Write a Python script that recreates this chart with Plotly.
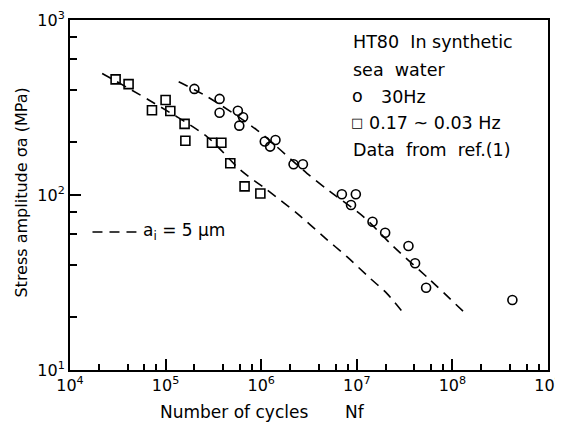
import plotly.graph_objects as go

# 30 Hz data (circles)
circ_N = [2.0e5, 3.67e5, 3.67e5, 5.7e5, 6.46e5, 5.9e5, 1.09e6, 1.41e6, 1.24e6, 2.18e6, 2.73e6,
          6.98e6, 9.77e6, 8.7e6, 1.46e7, 1.98e7, 3.47e7, 4.07e7, 5.31e7, 4.24e8]
circ_S = [404, 354, 295, 303, 278, 249, 202, 206, 189, 150, 150,
          101, 101, 87.7, 70.3, 60.9, 51.1, 40.7, 29.5, 25.1]

# 0.17 ~ 0.03 Hz data (squares)
sq_N = [3.0e4, 4.1e4, 1.0e5, 7.2e4, 1.12e5, 1.58e5, 1.61e5, 3.06e5, 3.83e5, 4.75e5, 6.7e5, 9.8e5]
sq_S = [458, 430, 349, 305, 302, 255, 204, 199, 199, 152, 112, 102]

# predicted curves a_i = 5 um
up_N = [1.37e5, 2.72e5, 9.04e5, 3.01e6, 5.26e6, 1.17e7, 2.42e7, 5.85e7, 1.36e8]
up_S = [444, 365, 235, 133, 104.5, 75.2, 50.7, 32.7, 21.1]
lo_N = [2.17e4, 6.67e4, 2.72e5, 6.05e5, 1.15e6, 2.37e6, 4.49e6, 7.88e6, 1.38e7, 2.06e7, 3.08e7]
lo_S = [495, 349, 215, 139, 107, 78.6, 57.8, 44.4, 33.4, 27.4, 21.1]

x_major = [1e4, 1e5, 1e6, 1e7, 1e8, 1e9]
x_major_text = ["10<sup>4</sup>", "10<sup>5</sup>", "10<sup>6</sup>", "10<sup>7</sup>", "10<sup>8</sup>", "10<sup>9</sup>"]
y_major = [1e1, 1e2, 1e3]
y_major_text = ["10<sup>1</sup>", "10<sup>2</sup>", "10<sup>3</sup>"]
minor_mult = [2, 4, 6, 8]

x_minor = [m * d for d in x_major[:-1] for m in minor_mult]
y_minor = [m * d for d in y_major[:-1] for m in minor_mult]

FONT = "DejaVu Sans"
dash = "10px,7px"

fig = go.Figure()
fig.add_trace(go.Scatter(x=up_N, y=up_S, mode="lines", line=dict(color="black", width=1.6, dash=dash,
                         shape="spline", smoothing=0.8), showlegend=False))
fig.add_trace(go.Scatter(x=lo_N, y=lo_S, mode="lines", line=dict(color="black", width=1.6, dash=dash,
                         shape="spline", smoothing=0.8), showlegend=False))
fig.add_trace(go.Scatter(x=circ_N, y=circ_S, mode="markers",
                         marker=dict(symbol="circle-open", size=9, color="black", line=dict(width=1.6)),
                         showlegend=False))
fig.add_trace(go.Scatter(x=sq_N, y=sq_S, mode="markers",
                         marker=dict(symbol="square-open", size=9, color="black", line=dict(width=1.6)),
                         showlegend=False))

axis_common = dict(showline=True, linecolor="black", linewidth=2, mirror=True, showgrid=False,
                   zeroline=False, ticks="inside", ticklen=11, tickwidth=1.5, tickcolor="black",
                   tickfont=dict(family=FONT, size=16, color="black"), tickmode="array",
                   automargin=False)

fig.update_xaxes(type="log", range=[4, 9], tickvals=x_major, ticktext=x_major_text,
                 minor=dict(tickmode="array", tickvals=x_minor, ticks="inside", ticklen=6,
                            tickwidth=1.5, tickcolor="black", showgrid=False),
                 **axis_common)
fig.update_yaxes(type="log", range=[1, 3], tickvals=y_major, ticktext=y_major_text,
                 minor=dict(tickmode="array", tickvals=y_minor, ticks="inside", ticklen=7,
                            tickwidth=1.5, tickcolor="black", showgrid=False),
                 **axis_common)

# page body has an 8px margin; figure is sized so that the page layout matches the reference
OFF = 8
PAGE_W, PAGE_H = 563, 423
W, H = PAGE_W - OFF, PAGE_H - OFF
PL, PR, PT, PB = 69.5, 548, 20, 370          # plot edges in page pixels
L, T = PL - OFF, PT - OFF
R = W - (PR - OFF)
B = H - (PB - OFF)
pw, ph = PR - PL, PB - PT

def px(x):
    return (x - PL) / pw

def py(y):
    return (PB - y) / ph

txt = dict(family=FONT, size=17, color="black")
box = dict(family=FONT, size=17.5, color="black")
ann = []
ann.append(dict(x=px(158), y=py(412), xref="paper", yref="paper", text="Number of cycles",
                showarrow=False, font=txt, xanchor="left", yanchor="middle"))
ann.append(dict(x=px(343), y=py(412), xref="paper", yref="paper", text="Nf",
                showarrow=False, font=txt, xanchor="left", yanchor="middle"))
ann.append(dict(x=px(20), y=py(193), xref="paper", yref="paper", text="Stress amplitude σa (MPa)",
                showarrow=False, font=dict(family=FONT, size=16, color="black"), textangle=-90,
                xanchor="center", yanchor="middle"))
ann.append(dict(x=px(351), y=py(42), xref="paper", yref="paper", text="HT80  In synthetic",
                showarrow=False, font=box, xanchor="left", yanchor="middle"))
ann.append(dict(x=px(351), y=py(70), xref="paper", yref="paper", text="sea  water",
                showarrow=False, font=box, xanchor="left", yanchor="middle"))
ann.append(dict(x=px(350), y=py(96), xref="paper", yref="paper", text="o",
                showarrow=False, font=box, xanchor="left", yanchor="middle"))
ann.append(dict(x=px(379), y=py(97), xref="paper", yref="paper", text="30Hz",
                showarrow=False, font=box, xanchor="left", yanchor="middle"))
ann.append(dict(x=px(349), y=py(123), xref="paper", yref="paper", text="□",
                showarrow=False, font=dict(family=FONT, size=13, color="black"), xanchor="left", yanchor="middle"))
ann.append(dict(x=px(367), y=py(123), xref="paper", yref="paper", text="0.17 ~ 0.03 Hz",
                showarrow=False, font=box, xanchor="left", yanchor="middle"))
ann.append(dict(x=px(351), y=py(150), xref="paper", yref="paper", text="Data  from  ref.(1)",
                showarrow=False, font=box, xanchor="left", yanchor="middle"))
ann.append(dict(x=px(141), y=py(232), xref="paper", yref="paper", text="a<sub>i</sub> = 5 μm",
                showarrow=False, font=txt, xanchor="left", yanchor="middle"))

shapes = [dict(type="line", xref="paper", yref="paper", x0=px(92), x1=px(136), y0=py(232), y1=py(232),
               line=dict(color="black", width=1.6, dash=dash))]

fig.update_layout(width=W, height=H, margin=dict(l=L, r=R, t=T, b=B, autoexpand=False),
                  plot_bgcolor="white", paper_bgcolor="white",
                  annotations=ann, shapes=shapes, showlegend=False)

fig.write_html("out.html")
